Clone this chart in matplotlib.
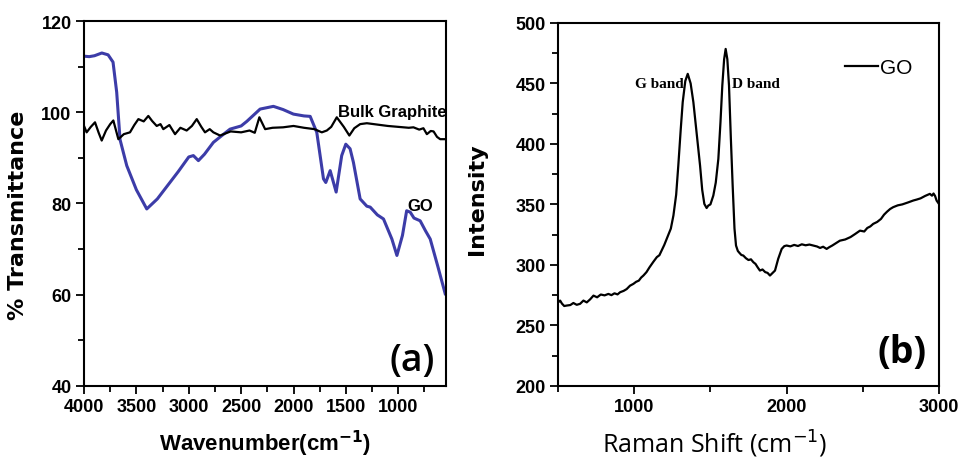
import matplotlib
matplotlib.use("Agg")
import matplotlib.pyplot as plt
from matplotlib.ticker import MultipleLocator

# (a) FTIR spectra
go_wn = [4000, 3950, 3900, 3830, 3770, 3723, 3688, 3656, 3592, 3500, 3401, 3300,
         3200, 3100, 3000, 2956, 2908, 2850, 2765, 2700, 2606, 2500, 2446, 2319,
         2192, 2100, 2001, 1900, 1841, 1778, 1714, 1692, 1650, 1593, 1540, 1501,
         1460, 1428, 1364, 1300, 1268, 1200, 1141, 1061, 1013, 960, 920, 886,
         850, 791, 740, 695, 620, 552]
go_t = [112.3, 112.2, 112.4, 113.0, 112.6, 111.0, 104.4, 94.0, 88.3, 83.0, 78.8, 81.0,
        84.0, 87.0, 90.2, 90.5, 89.4, 90.8, 93.4, 94.6, 96.3, 97.0, 98.0, 100.7,
        101.3, 100.6, 99.6, 99.2, 99.1, 95.6, 85.4, 84.6, 87.2, 82.5, 90.5, 93.0,
        92.0, 89.0, 81.0, 79.4, 79.2, 77.5, 76.6, 72.2, 68.6, 73.0, 78.4, 78.1,
        76.8, 76.2, 74.0, 72.2, 66.0, 60.2]

bulk_wn = [4000, 3975, 3935, 3895, 3860, 3831, 3790, 3750, 3720, 3672, 3620, 3561,
           3520, 3481, 3430, 3386, 3350, 3306, 3270, 3243, 3185, 3131, 3080, 3020,
           2970, 2924, 2880, 2845, 2800, 2765, 2701, 2600, 2500, 2420, 2370, 2326,
           2271, 2200, 2100, 2000, 1900, 1800, 1730, 1682, 1640, 1587, 1520, 1467,
           1420, 1364, 1300, 1200, 1100, 1000, 900, 855, 800, 760, 727, 690, 663,
           630, 600, 560]
bulk_t = [97.0, 95.6, 96.8, 97.8, 95.5, 93.8, 96.0, 97.4, 98.2, 94.1, 95.2, 95.6,
          97.2, 98.5, 98.0, 99.2, 98.1, 97.0, 97.4, 96.3, 97.2, 95.2, 96.6, 96.0,
          97.0, 98.5, 96.8, 95.6, 96.3, 95.6, 94.9, 95.8, 95.6, 96.0, 95.5, 98.9,
          96.3, 96.6, 96.7, 97.0, 96.6, 96.3, 95.6, 96.0, 96.8, 98.9, 96.8, 94.9,
          96.5, 97.4, 97.6, 97.3, 97.0, 96.8, 96.6, 96.7, 96.2, 96.5, 95.2, 95.9, 95.8,
          94.6, 94.1, 94.1]

# (b) Raman spectrum of GO
raman_x = [500, 513, 525, 540, 557, 580, 600, 622, 644, 666, 688, 710, 732, 756, 780,
           805, 830, 850, 870, 890, 907, 930, 950, 972, 994, 1012, 1030, 1045, 1060,
           1080, 1100, 1125, 1148, 1165, 1180, 1197, 1213, 1228, 1240, 1257, 1275,
           1289, 1305, 1318, 1335, 1351, 1370, 1388, 1410, 1432, 1446, 1460, 1475,
           1486, 1500, 1519, 1535, 1552, 1566, 1578, 1590, 1600, 1611, 1622, 1634,
           1646, 1658, 1668, 1680, 1690, 1703, 1716, 1733, 1750, 1766, 1782, 1796,
           1810, 1825, 1842, 1860, 1875, 1891, 1910, 1924, 1945, 1968, 1985, 2000,
           2025, 2050, 2075, 2100, 2125, 2150, 2175, 2200, 2220, 2240, 2263, 2280,
           2300, 2325, 2350, 2385, 2420, 2450, 2482, 2510, 2530, 2550, 2569, 2595,
           2620, 2640, 2660, 2680, 2700, 2730, 2760, 2795, 2832, 2855, 2880, 2910,
           2941, 2955, 2965, 2975, 2985, 3000]
raman_i = [269.0, 270.5, 268.0, 266.0, 266.4, 266.8, 268.5, 267.0, 267.8, 270.5, 269.0, 271.5,
           274.6, 273.2, 275.5, 274.8, 276.0, 275.0, 276.5, 275.6, 277.4, 278.5, 280.0, 282.8,
           284.3, 286.0, 287.0, 289.5, 291.2, 294.0, 298.0, 302.5, 306.4, 308.0, 312.0, 316.5,
           321.5, 326.0, 330.0, 340.8, 358.0, 382.0, 412.0, 434.5, 452.0, 457.9, 450.0, 434.5,
           408.0, 382.0, 362.0, 350.4, 347.0, 349.0, 350.0, 357.3, 368.0, 387.6, 418.0, 448.2,
           470.0, 478.5, 470.0, 448.2, 405.0, 365.5, 330.0, 316.0, 311.5, 310.0, 308.2, 307.7,
           305.5, 304.0, 304.6, 302.2, 300.8, 298.0, 295.3, 296.2, 294.0, 293.4, 291.2, 293.5,
           295.3, 305.0, 313.2, 315.5, 316.0, 315.3, 316.5, 315.6, 317.0, 316.2, 316.8, 316.0,
           315.2, 314.0, 315.0, 313.2, 314.6, 316.0, 318.0, 320.0, 321.0, 323.0, 325.5, 328.3,
           327.6, 330.5, 331.8, 333.9, 335.5, 338.0, 341.5, 344.0, 346.2, 347.7, 349.2, 350.0,
           351.5, 353.2, 354.0, 355.0, 357.0, 358.7, 357.2, 359.0, 357.0, 353.2, 350.5]

fig = plt.figure(figsize=(9.59, 4.6), dpi=100)
ax1 = fig.add_axes([0.0876, 0.159, 0.3774, 0.793])
ax2 = fig.add_axes([0.582, 0.159, 0.397, 0.789])

ax1.plot(go_wn, go_t, color='#3c3ca8', lw=2.2)
ax1.plot(bulk_wn, bulk_t, color='black', lw=1.6)
ax1.set_xlim(4000, 545)
ax1.set_ylim(40, 120)
ax1.xaxis.set_major_locator(MultipleLocator(500))
ax1.xaxis.set_minor_locator(MultipleLocator(250))
ax1.yaxis.set_major_locator(MultipleLocator(20))
ax1.yaxis.set_minor_locator(MultipleLocator(10))
ax1.set_xticks([4000, 3500, 3000, 2500, 2000, 1500, 1000])
ax1.set_xlabel('Wavenumber(cm$^{\\mathbf{-1}}$)', family='Liberation Sans', fontsize=16,
               fontweight='bold')
ax1.xaxis.set_label_coords(0.5, -0.115)
ax1.set_ylabel('% Transmittance', family='DejaVu Sans', fontsize=16, fontweight='bold')
ax1.yaxis.set_label_coords(-0.155, 0.47)
ax1.text(1574, 100.2, 'Bulk Graphite', family='Liberation Sans', fontsize=12,
         fontweight='bold', va='center')
ax1.text(915, 79.6, 'GO', family='Liberation Sans', fontsize=12, fontweight='bold',
         va='center')
ax1.text(1080, 43.5, '(a)', family='Open Sans', fontsize=27, fontweight='semibold')

ax2.plot(raman_x, raman_i, color='black', lw=1.6, label='GO')
ax2.set_xlim(500, 3000)
ax2.set_ylim(200, 500)
ax2.xaxis.set_major_locator(MultipleLocator(1000))
ax2.xaxis.set_minor_locator(MultipleLocator(500))
ax2.yaxis.set_major_locator(MultipleLocator(50))
ax2.yaxis.set_minor_locator(MultipleLocator(25))
ax2.set_xlabel('Raman Shift (cm$^{-1}$)', family='Open Sans', fontsize=18)
ax2.xaxis.set_label_coords(0.412, -0.115)
ax2.set_ylabel('Intensity', family='DejaVu Sans', fontsize=16, fontweight='bold')
ax2.yaxis.set_label_coords(-0.186, 0.518)
ax2.text(1325, 450, 'G band', family='Liberation Serif', fontsize=11, fontweight='bold',
         ha='right', va='center')
ax2.text(1640, 450, 'D band', family='Liberation Serif', fontsize=11, fontweight='bold',
         ha='left', va='center')
ax2.text(2600, 220, '(b)', family='Open Sans', fontsize=27, fontweight='bold')
leg = ax2.legend(loc='upper right', bbox_to_anchor=(0.98, 0.955), frameon=False,
                 handlelength=1.6, handletextpad=0.1,
                 prop={'family': 'Liberation Sans', 'size': 15})

for ax in (ax1, ax2):
    for sp in ax.spines.values():
        sp.set_linewidth(1.5)
    ax.tick_params(which='both', direction='out', width=1.3, top=False, right=False)
    ax.tick_params(which='major', length=6, pad=3)
    ax.tick_params(which='minor', length=4)
    for lab in ax.get_xticklabels() + ax.get_yticklabels():
        lab.set_family('Liberation Sans')
        lab.set_fontweight('bold')
        lab.set_fontsize(13)

fig.savefig('out.png', dpi=100)
